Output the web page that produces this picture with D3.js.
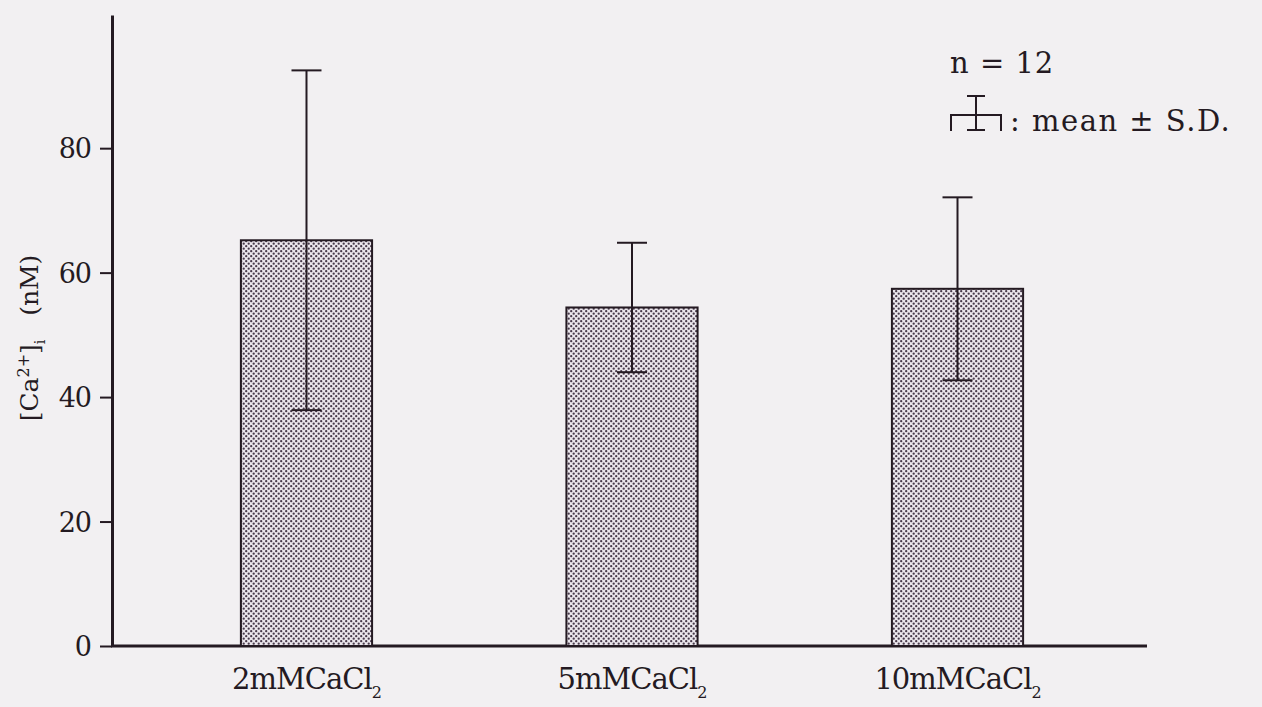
<!DOCTYPE html>
<html>
<head>
<meta charset="utf-8">
<script src="https://cdn.jsdelivr.net/npm/d3@7"></script>
<style>
    body { margin: 0; background: #f2f0f2; }
    #chart-area { width: 1262px; height: 707px; }
    text { font-family: "DejaVu Serif", serif; fill: #241a22; }
</style>
</head>
<body>
<div id="chart-area"></div>
<script>
// values
var categories = ["2mMCaCl", "5mMCaCl", "10mMCaCl"];
var means = [65.2, 54.4, 57.4];
var sds = [27.3, 10.4, 14.7];
var yTicks = [0, 20, 40, 60, 80];
var sampleSize = 12;

var ink = "#241a22";

/*
 *  CalciumVis - Object constructor function
 *  @param _parentElement   -- HTML element in which to draw the visualization
 */
CalciumVis = function(_parentElement) {
    this.parentElement = _parentElement;
    this.data = categories.map(function(c, i) {
        return { name: c, mean: means[i], sd: sds[i] };
    });
    this.initVis();
}

CalciumVis.prototype.initVis = function() {
    var vis = this;

    vis.svg = d3.select("#" + vis.parentElement).append("svg")
        .attr("width", 1262)
        .attr("height", 707);

    // stipple fill of the bars
    var pat = vis.svg.append("defs").append("pattern")
        .attr("id", "dots")
        .attr("patternUnits", "userSpaceOnUse")
        .attr("width", 5)
        .attr("height", 5);
    pat.append("rect").attr("width", 5).attr("height", 5).attr("fill", "#ebe6ec");
    pat.append("circle").attr("cx", 1.2).attr("cy", 1.2).attr("r", 1.15).attr("fill", "#47394a");
    pat.append("circle").attr("cx", 3.7).attr("cy", 3.7).attr("r", 1.15).attr("fill", "#47394a");

    // Scales
    vis.y = d3.scaleLinear()
        .domain([0, 101.4])
        .range([646, 15]);

    vis.x = d3.scaleBand()
        .domain(categories)
        .range([112, 1152])
        .paddingInner(0.597)
        .paddingOuter(0.396);

    // Y axis
    vis.yAxis = d3.axisLeft(vis.y)
        .tickValues(yTicks)
        .tickSize(12)
        .tickSizeOuter(0)
        .tickPadding(9);

    var yg = vis.svg.append("g")
        .attr("transform", "translate(112,0)")
        .call(vis.yAxis);
    yg.select(".domain").attr("stroke", ink).attr("stroke-width", 3);
    yg.selectAll(".tick line").attr("stroke", ink).attr("stroke-width", 2);
    yg.selectAll(".tick text")
        .attr("font-size", 27)
        .attr("font-family", "DejaVu Serif")
        .attr("fill", ink)
        .attr("letter-spacing", -1)
        .attr("dy", "0.36em");

    // X baseline
    vis.svg.append("line")
        .attr("x1", 111)
        .attr("x2", 1147)
        .attr("y1", vis.y(0))
        .attr("y2", vis.y(0))
        .attr("stroke", ink)
        .attr("stroke-width", 3);

    // Y axis title
    var yt = vis.svg.append("text")
        .attr("transform", "translate(38,338) rotate(-90)")
        .attr("text-anchor", "middle")
        .attr("font-size", 25);
    yt.append("tspan").text("[Ca");
    yt.append("tspan").attr("font-size", 16).attr("dy", -9).text("2+");
    yt.append("tspan").attr("dy", 9).text("]");
    yt.append("tspan").attr("font-size", 14).attr("dy", 7).text("i");
    yt.append("tspan").attr("dy", -7).attr("xml:space", "preserve").text("   (nM)");

    vis.updateVis();
}

CalciumVis.prototype.updateVis = function() {
    var vis = this;
    var capHalf = 15;

    // Bars
    vis.svg.selectAll("rect.bar")
        .data(vis.data)
        .enter()
        .append("rect")
        .attr("class", "bar")
        .attr("x", function(d) { return vis.x(d.name); })
        .attr("y", function(d) { return vis.y(d.mean); })
        .attr("width", vis.x.bandwidth())
        .attr("height", function(d) { return vis.y(0) - vis.y(d.mean); })
        .attr("fill", "url(#dots)")
        .attr("stroke", ink)
        .attr("stroke-width", 2);

    // Error bars
    var eg = vis.svg.selectAll("g.err")
        .data(vis.data)
        .enter()
        .append("g")
        .attr("class", "err")
        .attr("stroke", ink)
        .attr("stroke-width", 2);

    eg.append("line")
        .attr("x1", function(d) { return vis.x(d.name) + vis.x.bandwidth() / 2; })
        .attr("x2", function(d) { return vis.x(d.name) + vis.x.bandwidth() / 2; })
        .attr("y1", function(d) { return vis.y(d.mean + d.sd); })
        .attr("y2", function(d) { return vis.y(d.mean - d.sd); });

    [1, -1].forEach(function(sign) {
        eg.append("line")
            .attr("x1", function(d) { return vis.x(d.name) + vis.x.bandwidth() / 2 - capHalf; })
            .attr("x2", function(d) { return vis.x(d.name) + vis.x.bandwidth() / 2 + capHalf; })
            .attr("y1", function(d) { return vis.y(d.mean + sign * d.sd); })
            .attr("y2", function(d) { return vis.y(d.mean + sign * d.sd); });
    });

    // Category labels
    var lab = vis.svg.selectAll("text.cat")
        .data(vis.data)
        .enter()
        .append("text")
        .attr("class", "cat")
        .attr("x", function(d) { return vis.x(d.name) + vis.x.bandwidth() / 2; })
        .attr("y", 689)
        .attr("text-anchor", "middle")
        .attr("font-size", 29)
        .attr("letter-spacing", -1);
    lab.append("tspan").text(function(d) { return d.name; });
    lab.append("tspan").attr("font-size", 16).attr("dy", 9).text("2");

    // Legend
    vis.svg.append("text")
        .attr("x", 950)
        .attr("y", 73)
        .attr("font-size", 29)
        .attr("letter-spacing", 1)
        .text("n = " + sampleSize);

    var lg = vis.svg.append("g")
        .attr("stroke", ink)
        .attr("stroke-width", 2)
        .attr("fill", "none");
    lg.append("path").attr("d", "M951,131 V115 H1001 V131");
    lg.append("line").attr("x1", 976).attr("x2", 976).attr("y1", 96).attr("y2", 130);
    lg.append("line").attr("x1", 967).attr("x2", 985).attr("y1", 96).attr("y2", 96);
    lg.append("line").attr("x1", 967).attr("x2", 985).attr("y1", 130).attr("y2", 130);

    vis.svg.append("text")
        .attr("x", 1010)
        .attr("y", 131)
        .attr("font-size", 29)
        .attr("letter-spacing", 1.5)
        .text(": mean \u00b1 S.D.");
}

new CalciumVis("chart-area");
</script>
</body>
</html>
